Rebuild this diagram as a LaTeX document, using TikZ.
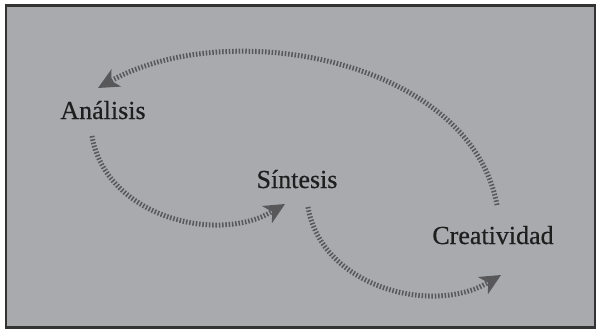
\documentclass[tikz,border=0pt]{standalone}
\usepackage{fontspec}
\setmainfont{Liberation Serif}
\newfontfamily\lblfont{Liberation Serif}[FakeBold=0.5, BoldFont=Liberation Serif]
\usetikzlibrary{arrows.meta}
\definecolor{bgray}{HTML}{A9AAAE}
\definecolor{agray}{HTML}{58585A}
\definecolor{tgray}{HTML}{1E1E1E}
\tikzset{
  lbl/.style={anchor=base, inner sep=0pt, text=tgray, font=\lblfont\bfseries\fontsize{26}{30}\selectfont},
  cyc/.style={draw=agray, line width=5pt, dash pattern=on 1.5pt off 1.8pt,
    -{Stealth[length=21pt,width=20pt,inset=6pt,fill=agray,line width=0pt,round]}},
}
\begin{document}
\begin{tikzpicture}[x=1pt,y=-1pt]
\useasboundingbox (0,0) rectangle (597,330);
\fill[white] (0,0) rectangle (597,330);
\draw[fill=bgray, draw=black!80, line width=2.4pt] (6,5.5) rectangle (595,327.5);
\node[lbl] (a) at (103,119) {Análisis};
\node[lbl] (s) at (297,188) {Síntesis};
\node[lbl] (c) at (493,244) {Creatividad};
\coordinate (c1) at (497,205);
\coordinate (a1) at (98,88);
\coordinate (a2) at (92,136);
\coordinate (s1) at (285,204);
\coordinate (s2) at (308,207);
\coordinate (c2) at (501,275);
\draw[cyc] (c1) .. controls (470,60) and (230,15) .. (a1);
\draw[cyc] (a2) .. controls (105,215) and (215,245) .. (s1);
\draw[cyc] (s2) .. controls (321,286) and (431,316) .. (c2);
\end{tikzpicture}
\end{document}
